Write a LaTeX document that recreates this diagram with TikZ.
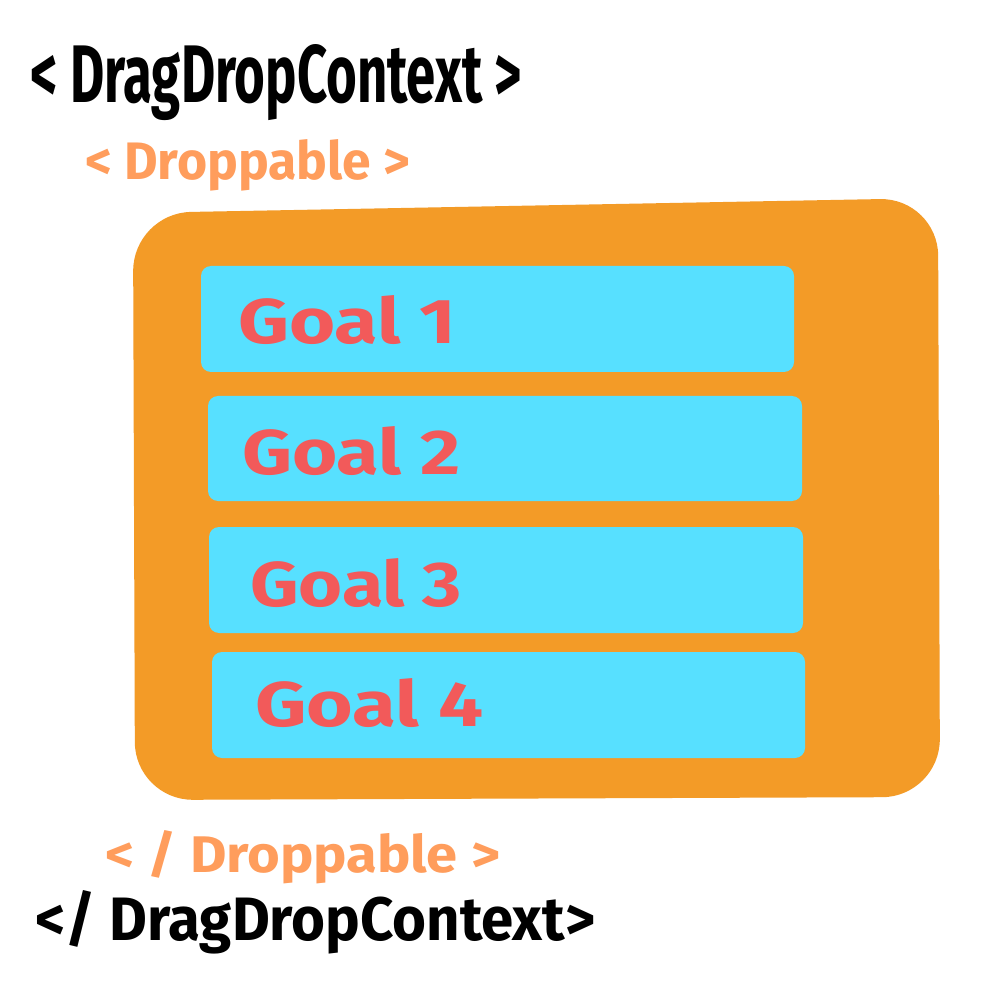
\documentclass[tikz,border=0pt]{standalone}
\usepackage{fontspec}
\setmainfont{Fira Sans}
\usepackage{graphicx}
\definecolor{boxorange}{HTML}{F39B27}
\definecolor{goalcyan}{HTML}{57E0FF}
\definecolor{goalred}{HTML}{F25A5A}
\definecolor{tagorange}{HTML}{FF9D5C}
\begin{document}
\begin{tikzpicture}[x=1pt,y=-1pt,
  goalbox/.style={fill=goalcyan,rounded corners=10pt,draw=none},
  goaltext/.style={anchor=base west,text=goalred,inner sep=0pt},
  tagtext/.style={anchor=base west,inner sep=0pt}]
\useasboundingbox (0,0) rectangle (1002,1000);
\fill[white] (0,0) rectangle (1002,1000);
% droppable area
\fill[boxorange,rounded corners=58pt] (133,213) -- (938,198) -- (940,797) -- (135,800) -- cycle;
% goal boxes
\fill[goalbox] (201,266) rectangle (794,372);
\fill[goalbox] (208,396) rectangle (802,501);
\fill[goalbox] (209,527) rectangle (803,633);
\fill[goalbox] (212,652) rectangle (805,758);
\node[goaltext] (g1) at (238,344) {\resizebox{218pt}{48pt}{\bfseries Goal 1}};
\node[goaltext] (g2) at (242,474) {\resizebox{218pt}{48pt}{\bfseries Goal 2}};
\node[goaltext] (g3) at (250,606) {\resizebox{212pt}{48pt}{\bfseries Goal 3}};
\node[goaltext] (g4) at (255,726) {\resizebox{228pt}{48pt}{\bfseries Goal 4}};
% tags
\node[tagtext,text=black] (ctxopen) at (30,103) {\resizebox{492pt}{58pt}{\bfseries < DragDropContext >}};
\node[tagtext,text=tagorange] (dropopen) at (85,180) {\resizebox{325pt}{40pt}{\bfseries < Droppable >}};
\node[tagtext,text=tagorange] (dropclose) at (105,872) {\resizebox{395pt}{42pt}{\bfseries < / Droppable >}};
\node[tagtext,text=black] (ctxclose) at (35,940) {\resizebox{560pt}{50pt}{\bfseries </ DragDropContext>}};
\end{tikzpicture}
\end{document}
